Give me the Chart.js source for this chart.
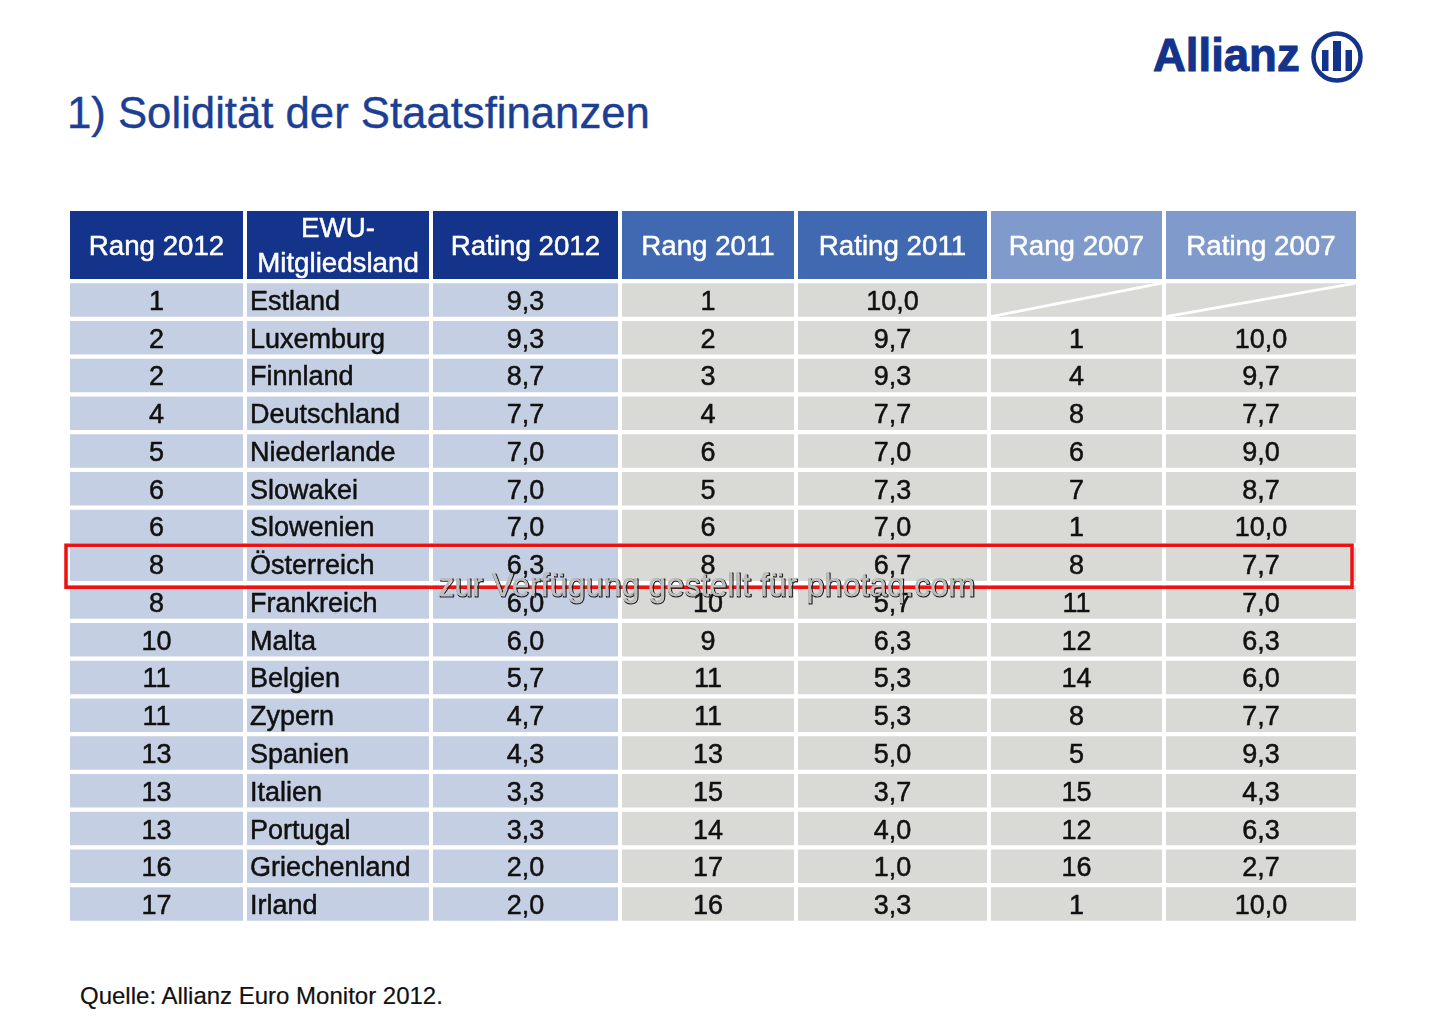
<!DOCTYPE html>
<html lang="de">
<head>
<meta charset="utf-8">
<title>Solidität der Staatsfinanzen</title>
<script src="https://cdn.jsdelivr.net/npm/chart.js@4"></script>
<style>
    html, body { margin: 0; padding: 0; background: #fff; }
    body { position: relative; width: 1440px; height: 1016px; overflow: hidden; font-family: "Liberation Sans", sans-serif; }
    canvas { position: absolute; left: 0; }
    #headChart { top: 211px; }
    #bodyChart { top: 281px; }
    #title { position: absolute; left: 67px; top: 87px; font-size: 43.7px; line-height: 52px; color: #1c3f94; white-space: nowrap; -webkit-text-stroke: 0.4px #1c3f94; }
    #source { position: absolute; left: 80px; top: 982px; font-size: 24px; line-height: 27px; color: #111; white-space: nowrap; -webkit-text-stroke: 0.2px #111; }
    #brand { position: absolute; left: 1153px; top: 26px; font-size: 45.5px; line-height: 60px; font-weight: bold; color: #14338a; -webkit-text-stroke: 1px #14338a; }
    #mark { position: absolute; left: 1310px; top: 30px; }
</style>
</head>
<body>
<div id="title">1) Solidität der Staatsfinanzen</div>
<div id="brand">Allianz</div>
<svg id="mark" width="54" height="54" viewBox="0 0 54 54">
    <circle cx="27" cy="27" r="23.5" fill="none" stroke="#14338a" stroke-width="4.5"/>
    <rect x="12" y="20" width="6.5" height="21" fill="#14338a"/>
    <rect x="23" y="11" width="8" height="30" fill="#14338a"/>
    <rect x="35.5" y="20" width="6.5" height="21" fill="#14338a"/>
</svg>
<canvas id="headChart" width="1440" height="68"></canvas>
<canvas id="bodyChart" width="1440" height="642"></canvas>
<div id="source">Quelle: Allianz Euro Monitor 2012.</div>

<script>
// Table data
var headers = ["Rang 2012", "EWU-\nMitgliedsland", "Rating 2012", "Rang 2011", "Rating 2011", "Rang 2007", "Rating 2007"];
var countries = ["Estland", "Luxemburg", "Finnland", "Deutschland", "Niederlande", "Slowakei", "Slowenien", "Österreich", "Frankreich", "Malta", "Belgien", "Zypern", "Spanien", "Italien", "Portugal", "Griechenland", "Irland"];
var rang2012 = [1, 2, 2, 4, 5, 6, 6, 8, 8, 10, 11, 11, 13, 13, 13, 16, 17];
var rating2012 = [9.3, 9.3, 8.7, 7.7, 7.0, 7.0, 7.0, 6.3, 6.0, 6.0, 5.7, 4.7, 4.3, 3.3, 3.3, 2.0, 2.0];
var rang2011 = [1, 2, 3, 4, 6, 5, 6, 8, 10, 9, 11, 11, 13, 15, 14, 17, 16];
var rating2011 = [10.0, 9.7, 9.3, 7.7, 7.0, 7.3, 7.0, 6.7, 5.7, 6.3, 5.3, 5.3, 5.0, 3.7, 4.0, 1.0, 3.3];
var rang2007 = [null, 1, 4, 8, 6, 7, 1, 8, 11, 12, 14, 8, 5, 15, 12, 16, 1];
var rating2007 = [null, 10.0, 9.7, 7.7, 9.0, 8.7, 10.0, 7.7, 7.0, 6.3, 6.0, 7.7, 9.3, 4.3, 6.3, 2.7, 10.0];
var highlightCountry = "Österreich";
var watermark = "zur Verfügung gestellt für photaq.com";

// Layout and colours
var colStart = [70, 247, 433, 622, 798, 991, 1166];
var colEnd = [243, 429, 618, 794, 987, 1162, 1356];
var headColors = ["#14338a", "#14338a", "#14338a", "#4069b2", "#4069b2", "#7f9acb", "#7f9acb"];
var cellColors = ["#c5cfe3", "#c5cfe3", "#c5cfe3", "#d9d9d5", "#d9d9d5", "#d9d9d5", "#d9d9d5"];

function comma(v) {
    return v === null ? "" : v.toFixed(1).replace(".", ",");
}
function plain(v) {
    return v === null ? "" : String(v);
}

var columns = [
    rang2012.map(plain),
    countries,
    rating2012.map(comma),
    rang2011.map(plain),
    rating2011.map(comma),
    rang2007.map(plain),
    rating2007.map(comma)
];

// Writes the cell texts on top of the bars
var cellText = {
    id: "cellText",
    afterDatasetsDraw: function (chart) {
        var ctx = chart.ctx;
        ctx.save();
        ctx.textBaseline = "middle";
        ctx.lineJoin = "round";
        chart.data.datasets.forEach(function (ds, c) {
            chart.getDatasetMeta(c).data.forEach(function (bar, r) {
                var lines = String(ds.cellTexts[r]).split("\n");
                ctx.fillStyle = ds.textColor;
                ctx.strokeStyle = ds.textColor;
                ctx.lineWidth = 0.5;
                ctx.font = ds.textSize + "px 'Liberation Sans', sans-serif";
                var left = ds.alignLeft === true;
                ctx.textAlign = left ? "left" : "center";
                var x = left ? bar.base + 3 : (bar.base + bar.x) / 2;
                lines.forEach(function (line, i) {
                    var y = bar.y + ds.textShift + (i - (lines.length - 1) / 2) * 35;
                    ctx.fillText(line, x, y);
                    ctx.strokeText(line, x, y);
                });
            });
        });
        ctx.restore();
    }
};

// Diagonal strike through cells without a value, red frame, watermark
var bodyExtras = {
    id: "bodyExtras",
    afterDraw: function (chart) {
        var ctx = chart.ctx;
        var yScale = chart.scales.y;
        ctx.save();
        ctx.strokeStyle = "#fff";
        ctx.lineWidth = 3;
        chart.data.datasets.forEach(function (ds, c) {
            chart.getDatasetMeta(c).data.forEach(function (bar, r) {
                if (ds.cellTexts[r] === "") {
                    var half = bar.height / 2;
                    ctx.beginPath();
                    ctx.moveTo(bar.base, bar.y + half);
                    ctx.lineTo(bar.x, bar.y - half);
                    ctx.stroke();
                }
            });
        });
        var yMid = yScale.getPixelForValue(countries.indexOf(highlightCountry));
        ctx.strokeStyle = "#ee1111";
        ctx.lineWidth = 3.5;
        ctx.strokeRect(66, yMid - 21 + 2, 1286, 42);

        ctx.font = "32.3px 'Liberation Sans', sans-serif";
        ctx.textAlign = "left";
        ctx.textBaseline = "middle";
        ctx.lineJoin = "round";
        var wy = yMid + 23;
        ctx.strokeStyle = "#222";
        ctx.lineWidth = 1.2;
        ctx.strokeText(watermark, 439, wy + 1);
        ctx.fillStyle = "#bdbdbd";
        ctx.fillText(watermark, 438, wy);
        ctx.restore();
    }
};

function tableOptions() {
    return {
        responsive: false,
        animation: false,
        devicePixelRatio: 1,
        indexAxis: "y",
        layout: { padding: 0 },
        plugins: { legend: { display: false }, tooltip: { enabled: false } },
        scales: {
            x: { type: "linear", min: 0, max: 1440, display: false },
            y: { display: false }
        }
    };
}

// Header row
new Chart(document.getElementById("headChart"), {
    type: "bar",
    data: {
        labels: ["Kopf"],
        datasets: headers.map(function (h, c) {
            return {
                label: h,
                data: [[colStart[c], colEnd[c]]],
                backgroundColor: headColors[c],
                inflateAmount: 0,
                grouped: false,
                barPercentage: 1,
                categoryPercentage: 1,
                cellTexts: [h],
                textColor: "#fff",
                textSize: 27.7,
                textShift: 2
            };
        })
    },
    options: tableOptions(),
    plugins: [cellText]
});

// Body rows
new Chart(document.getElementById("bodyChart"), {
    type: "bar",
    data: {
        labels: countries,
        datasets: columns.map(function (col, c) {
            return {
                label: headers[c],
                data: countries.map(function () { return [colStart[c], colEnd[c]]; }),
                backgroundColor: cellColors[c],
                inflateAmount: 0,
                grouped: false,
                barThickness: 33.5,
                cellTexts: col,
                textColor: "#111",
                textSize: 27,
                textShift: 2.5,
                alignLeft: c === 1
            };
        })
    },
    options: tableOptions(),
    plugins: [cellText, bodyExtras]
});
</script>
</body>
</html>
